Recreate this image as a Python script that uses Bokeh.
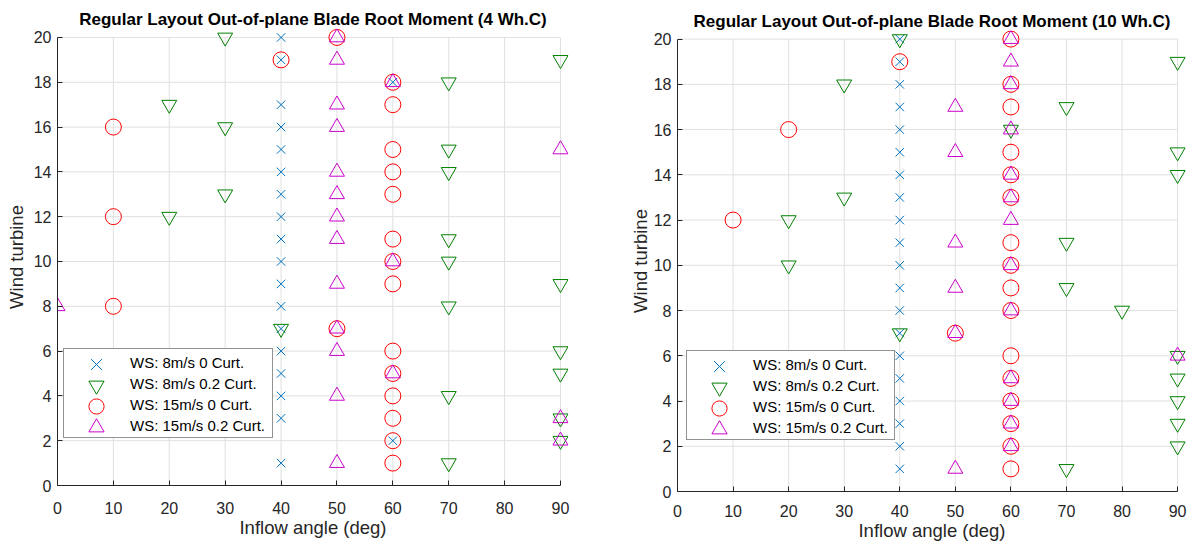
from bokeh.plotting import figure
from bokeh.models import Range1d, FixedTicker, Legend, LegendItem
from bokeh.layouts import row, column
from bokeh.embed import file_html
from bokeh.resources import INLINE

# Turbine index (y axis)
turbines = list(range(1, 21))

# Axis ticks
x_ticks = [0, 10, 20, 30, 40, 50, 60, 70, 80, 90]
y_ticks = [0, 2, 4, 6, 8, 10, 12, 14, 16, 18, 20]

series_labels = [
    "WS: 8m/s 0 Curt.",
    "WS: 8m/s 0.2 Curt.",
    "WS: 15m/s 0 Curt.",
    "WS: 15m/s 0.2 Curt.",
]

# Inflow angle (deg) giving the peak out-of-plane blade root moment, turbines 1..20
# 4 wake-hour case
wh4_ws8_c0 = [40, 60, 40, 40, 40, 40, 40, 40, 40, 40, 40, 40, 40, 40, 40, 40, 40, 60, 40, 40]
wh4_ws8_c02 = [70, 90, 90, 70, 90, 90, 40, 70, 90, 70, 70, 20, 30, 70, 70, 30, 20, 70, 90, 30]
wh4_ws15_c0 = [60, 60, 60, 60, 60, 60, 50, 10, 60, 60, 60, 10, 60, 60, 60, 10, 60, 60, 40, 50]
wh4_ws15_c02 = [50, 90, 90, 50, 60, 50, 50, 0, 50, 60, 50, 50, 50, 50, 90, 50, 50, 60, 50, 50]

# 10 wake-hour case
wh10_ws8_c0 = [40, 40, 40, 40, 40, 40, 40, 40, 40, 40, 40, 40, 40, 40, 40, 40, 40, 40, 40, 40]
wh10_ws8_c02 = [70, 90, 90, 90, 90, 90, 40, 80, 70, 20, 70, 20, 30, 90, 90, 60, 70, 30, 90, 40]
wh10_ws15_c0 = [60, 60, 60, 60, 60, 60, 50, 60, 60, 60, 60, 10, 60, 60, 60, 20, 60, 60, 40, 60]
wh10_ws15_c02 = [50, 60, 60, 60, 60, 90, 50, 60, 50, 60, 50, 60, 60, 60, 50, 60, 50, 60, 60, 60]

FONT = "Liberation Sans"
AXIS_COLOR = "#262626"
GRID_COLOR = "#E0E0E0"
MARKERS = ["x", "inverted_triangle", "circle", "triangle"]
COLORS = ["#0072BD", "#008000", "#FF0000", "#CC00CC"]
SIZES = [12, 15, 16, 15]

# legend geometry (px)
ROW_H = 21
GLYPH_W = 66
BIG = 38          # glyph box giving ~15 px legend markers
PAD = dict(left=0, right=6, top=3, bottom=1)


def make_panel(title, angles, x_end, y_end, borders, legend_offset, label_width,
               ylabel_standoff, xtick_standoff):
    left, right, top, bottom = borders
    p = figure(
        width=594, height=544,
        x_range=Range1d(x_ticks[0], x_end), y_range=Range1d(y_ticks[0], y_end),
        output_backend="svg", toolbar_location=None,
        min_border_left=left, min_border_right=right,
        min_border_top=top, min_border_bottom=bottom,
        background_fill_color="white", border_fill_color="white",
        outline_line_color=None,
    )
    p.grid.visible = False

    # light grid limited to the axis extent
    n_x, n_y = len(x_ticks), len(y_ticks)
    p.segment(x0=x_ticks, x1=x_ticks, y0=[y_ticks[0]] * n_x, y1=[y_ticks[-1]] * n_x,
              line_color=GRID_COLOR, line_width=1)
    p.segment(x0=[x_ticks[0]] * n_y, x1=[x_ticks[-1]] * n_y, y0=y_ticks, y1=y_ticks,
              line_color=GRID_COLOR, line_width=1)

    for vals, marker, color, size in zip(angles, MARKERS, COLORS, SIZES):
        p.scatter(x=vals, y=turbines, marker=marker, size=size,
                  fill_color=None, line_color=color, line_width=1)

    # title
    p.title.text = title
    p.title.align = "center"
    p.title.text_font = FONT
    p.title.text_font_size = "17px"
    p.title.text_font_style = "bold"
    p.title.text_color = "black"
    p.title.standoff = 0

    # axes
    for ax in (p.xaxis[0], p.yaxis[0]):
        ax.major_tick_in = 5
        ax.major_tick_out = 0
        ax.minor_tick_in = 0
        ax.minor_tick_out = 0
        ax.axis_line_color = AXIS_COLOR
        ax.axis_line_width = 1
        ax.major_tick_line_color = AXIS_COLOR
        ax.major_label_text_font = FONT
        ax.major_label_text_font_size = "16px"
        ax.major_label_text_color = AXIS_COLOR
        ax.axis_label_text_font = FONT
        ax.axis_label_text_font_size = "18.5px"
        ax.axis_label_text_font_style = "normal"
        ax.axis_label_text_color = AXIS_COLOR

    p.xaxis.ticker = FixedTicker(ticks=x_ticks)
    p.xaxis.bounds = (x_ticks[0], x_ticks[-1])
    p.xaxis.major_label_standoff = xtick_standoff
    p.xaxis.axis_label_standoff = 0
    p.xaxis.axis_label = "Inflow angle (deg)"

    p.yaxis.ticker = FixedTicker(ticks=y_ticks)
    p.yaxis.bounds = (y_ticks[0], y_ticks[-1])
    p.yaxis.major_label_standoff = 6
    p.yaxis.axis_label_standoff = ylabel_standoff
    p.yaxis.axis_label = "Wind turbine"

    # legend box with labels; its own sample glyphs are blank stand-ins
    blanks = [p.scatter(x=[], y=[], marker=m, line_color=None, fill_color=None) for m in MARKERS]
    lx, ly = legend_offset
    legend = Legend(
        items=[LegendItem(label=lab, renderers=[b]) for lab, b in zip(series_labels, blanks)],
        location=(lx, ly),
        glyph_width=GLYPH_W, glyph_height=ROW_H, label_height=ROW_H, label_width=label_width,
        spacing=0, padding=PAD, label_standoff=0, margin=0,
        label_text_font=FONT, label_text_font_size="15px", label_text_color="black",
        border_line_color=AXIS_COLOR, border_line_width=1,
        background_fill_color="white", background_fill_alpha=1.0,
    )
    p.add_layout(legend)

    # full-size sample markers, one per legend row, from hidden copies of each series
    keys = [p.scatter(x=vals, y=turbines, marker=m, size=s, fill_color=None,
                      line_color=c, line_width=1, visible=False)
            for vals, m, c, s in zip(angles, MARKERS, COLORS, SIZES)]
    n = len(keys)
    for i, r in enumerate(keys):
        cx = lx + PAD["left"] + GLYPH_W / 2 - BIG / 2
        cy = ly + PAD["bottom"] + (n - 1 - i) * ROW_H + ROW_H / 2 - BIG / 2
        sample = Legend(
            items=[LegendItem(label="", renderers=[r])],
            location=(cx, cy),
            glyph_width=BIG, glyph_height=BIG, label_height=0, label_width=0,
            spacing=0, padding=0, label_standoff=0, margin=0,
            label_text_font_size="1px", inactive_fill_alpha=0.0,
            border_line_color=None, background_fill_alpha=0.0,
        )
        p.add_layout(sample)
    return p


p1 = make_panel(
    "Regular Layout Out-of-plane Blade Root Moment (4 Wh.C)",
    [wh4_ws8_c0, wh4_ws8_c02, wh4_ws15_c0, wh4_ws15_c02],
    91.43, 20.40, (57, 26, 28, 59), (6, 47), 136, 4, 16,
)
p2 = make_panel(
    "Regular Layout Out-of-plane Blade Root Moment (10 Wh.C)",
    [wh10_ws8_c0, wh10_ws8_c02, wh10_ws15_c0, wh10_ws15_c02],
    91.6, 20.38, (83, 2, 30, 53), (9, 51), 133, 0, 13,
)

layout = row(column(p1), column(p2))
open("out.html", "w").write(file_html(layout, INLINE))
